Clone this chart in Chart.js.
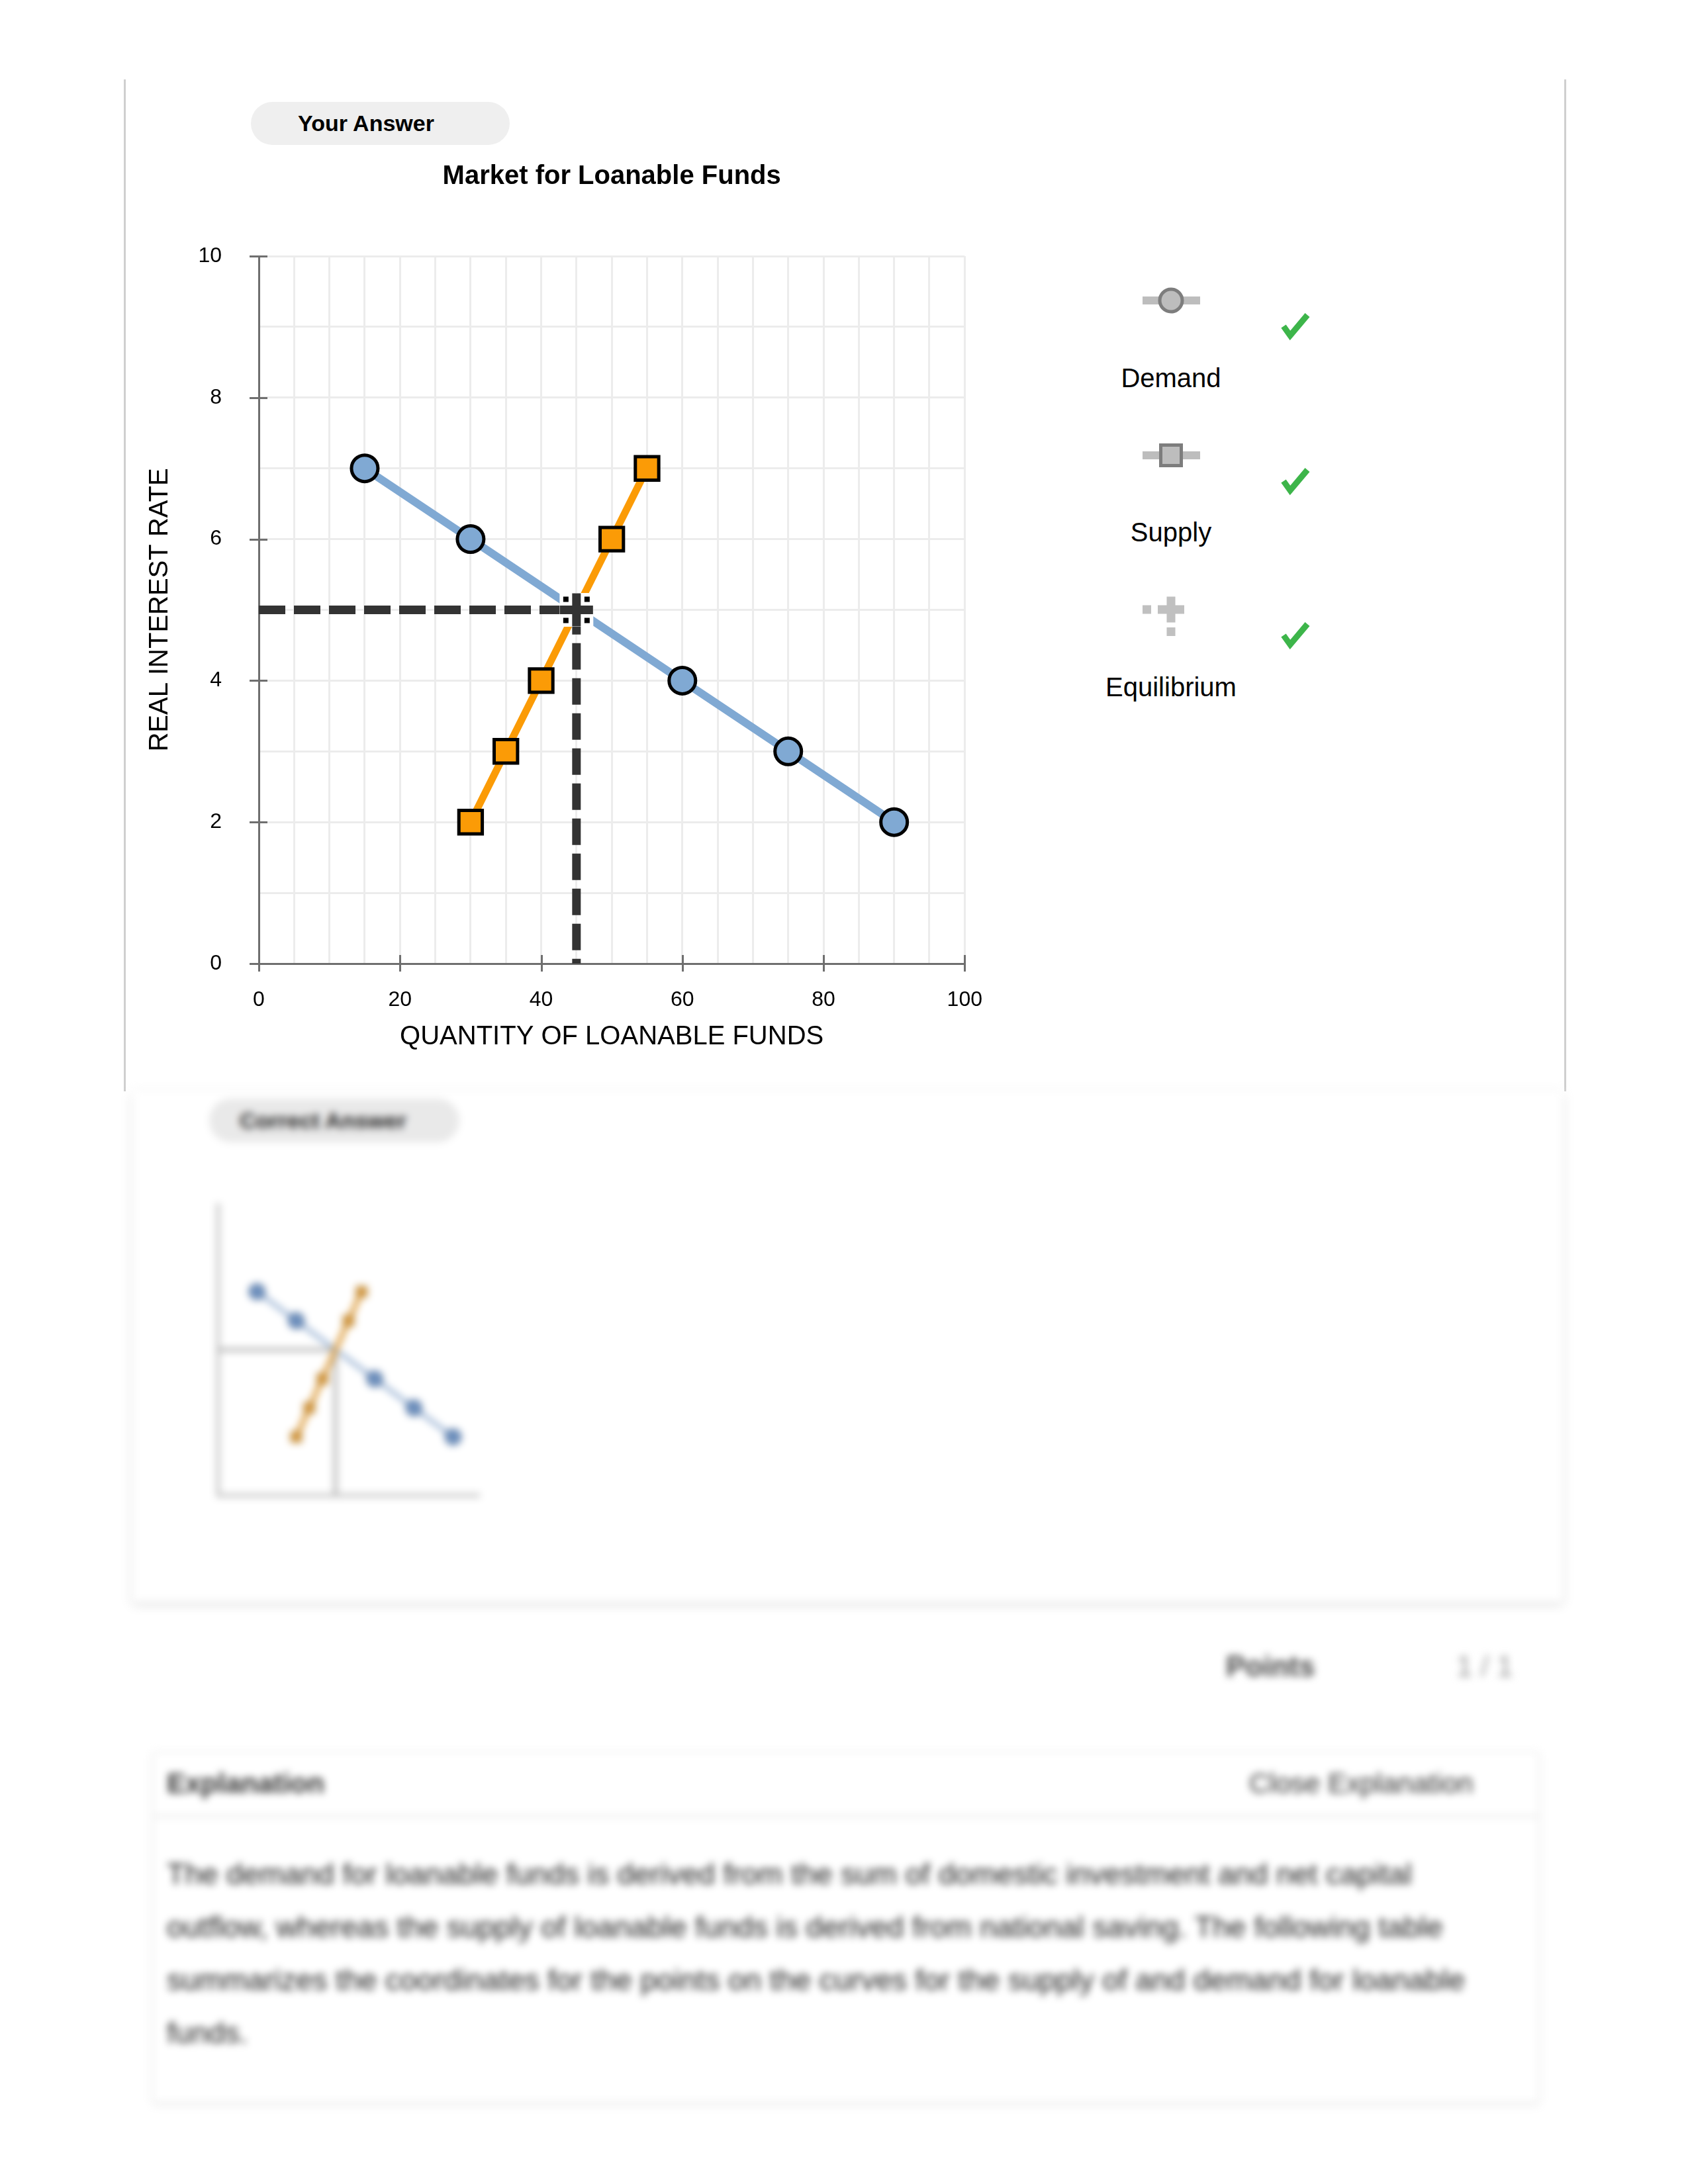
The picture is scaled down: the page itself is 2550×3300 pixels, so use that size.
<!DOCTYPE html>
<html>
<head>
<meta charset="utf-8">
<title>Market for Loanable Funds</title>
<script src="https://cdn.jsdelivr.net/npm/chart.js@4.4.0/dist/chart.umd.min.js"></script>
<style>
  html, body { margin: 0; padding: 0; background: #fff; }
  body {
    width: 2550px; height: 3300px; position: relative; overflow: hidden;
    font-family: "Liberation Sans", Arial, Helvetica, sans-serif; color: #000;
  }
  .frame-line { position: absolute; top: 120px; width: 3px; height: 1529px; background: #cfcfcf; }
  .pill {
    position: absolute; border-radius: 34px; background: #efefef;
    font-weight: bold; font-size: 34px; box-sizing: border-box; white-space: nowrap;
  }
  #mainWrap { position: absolute; left: 218px; top: 230px; width: 1302px; height: 1361px; }
  #legend { position: absolute; left: 1600px; top: 420px; }
  .blurred { position: absolute; left: 0; top: 0; width: 2550px; height: 3300px; filter: blur(6px); }
  .card {
    position: absolute; left: 200px; top: 1648px; width: 2161px; height: 772px;
    background: #fff; box-shadow: 0 4px 14px rgba(0,0,0,0.14); border-radius: 6px;
  }
  #miniWrap { position: absolute; left: 315px; top: 1805px; width: 430px; height: 470px; }
  .muted { position: absolute; font-size: 44px; white-space: nowrap; }
  .panel {
    position: absolute; left: 231px; top: 2647px; width: 2094px; height: 530px;
    background: #fff; border: 2px solid #eeeeee; box-shadow: 0 3px 10px rgba(0,0,0,0.08);
    box-sizing: border-box;
  }
  .panel-head { position: absolute; left: 0; top: 0; width: 100%; height: 94px; border-bottom: 3px solid #e3e3e3; }
  .para {
    position: absolute; left: 252px; top: 2792px; font-size: 45px; line-height: 80px;
    color: #222; white-space: nowrap;
  }
</style>
</head>
<body>

<div class="frame-line" style="left:187px"></div>
<div class="frame-line" style="left:2363px"></div>

<div class="pill" style="left:379px; top:154px; width:391px; height:65px; line-height:65px; padding-left:71px;">Your Answer</div>

<div id="mainWrap"><canvas id="loanChart"></canvas></div>

<svg id="legend" width="420" height="660" xmlns="http://www.w3.org/2000/svg">
  <g font-family="Liberation Sans, Arial, sans-serif" font-size="40" fill="#000" text-anchor="middle">
    <!-- Demand -->
    <line x1="126" y1="34" x2="213" y2="34" stroke="#bdbdbd" stroke-width="12"/>
    <circle cx="169" cy="34" r="17" fill="#bdbdbd" stroke="#7d7d7d" stroke-width="5"/>
    <text x="169" y="151" dominant-baseline="central">Demand</text>
    <!-- Supply -->
    <line x1="126" y1="268" x2="213" y2="268" stroke="#bdbdbd" stroke-width="12"/>
    <rect x="153.5" y="252.5" width="31" height="31" fill="#bdbdbd" stroke="#7d7d7d" stroke-width="5"/>
    <text x="169" y="384" dominant-baseline="central">Supply</text>
    <!-- Equilibrium -->
    <g fill="#c0c0c0">
      <rect x="149" y="494.5" width="40" height="13"/>
      <rect x="162.5" y="481.5" width="13" height="39"/>
      <rect x="126" y="494.5" width="13" height="13"/>
      <rect x="162.5" y="528" width="13" height="13"/>
    </g>
    <text x="169" y="618" dominant-baseline="central">Equilibrium</text>
  </g>
  <g fill="none" stroke="#3db54a" stroke-width="9" stroke-linejoin="miter">
    <path d="M 339 73 L 349 87 L 375 56"/>
    <path d="M 339 307 L 349 321 L 375 290"/>
    <path d="M 339 540 L 349 554 L 375 523"/>
  </g>
</svg>

<!-- lower part of the page, out of focus in the reference -->
<div class="blurred">
  <div class="card"></div>
  <div class="pill" style="left:316px; top:1660px; width:378px; height:66px; line-height:66px; padding-left:46px; background:#e9e9e9; color:#222;">Correct Answer</div>
  <div id="miniWrap"><canvas id="miniChart"></canvas></div>
  <div class="muted" style="left:1852px; top:2493px; color:#444; font-weight:bold;">Points</div>
  <div class="muted" style="left:2200px; top:2493px; color:#999;">1 / 1</div>
  <div class="panel"><div class="panel-head"></div></div>
  <div class="muted" style="left:252px; top:2671px; color:#333; font-size:42px; font-weight:bold;">Explanation</div>
  <div class="muted" style="left:1887px; top:2671px; color:#333; font-size:42px;">Close Explanation</div>
  <div class="para">The demand for loanable funds is derived from the sum of domestic investment and net capital<br>outflow, whereas the supply of loanable funds is derived from national saving. The following table<br>summarizes the coordinates for the points on the curves for the supply of and demand for loanable<br>funds.</div>
</div>

<script>
// values
const demandQty = [15, 30, 60, 75, 90];
const demandRate = [7, 6, 4, 3, 2];
const supplyQty = [30, 35, 40, 50, 55];
const supplyRate = [2, 3, 4, 6, 7];
const equilibriumQty = [45];
const equilibriumRate = [5];
const xTickLabels = [0, 20, 40, 60, 80, 100];
const yTickLabels = [0, 2, 4, 6, 8, 10];

const demandColor = '#80a9d3';
const supplyColor = '#fb9b06';
const dashColor = '#333333';
const axisColor = '#6f6f6f';
const gridColor = '#ececec';

Chart.defaults.font.family = '"Liberation Sans", Arial, Helvetica, sans-serif';
Chart.defaults.color = '#000';

function toPoints(xs, ys) {
    return xs.map((v, i) => ({ x: v, y: ys[i] }));
}

// dashed guide lines from the axes to the equilibrium point
function guidePoints() {
    return [
        { x: 0, y: equilibriumRate[0] },
        { x: equilibriumQty[0], y: equilibriumRate[0] },
        { x: equilibriumQty[0], y: 0 },
    ];
}

/**
 * Tick marks that cross the axis lines, plus the selection dots round the equilibrium
 */
const crossTicks = {
    id: 'crossTicks',
    afterDraw(chart) {
        const { ctx, scales: { x, y } } = chart;
        ctx.save();
        ctx.strokeStyle = axisColor;
        ctx.lineWidth = 3;
        ctx.beginPath();
        xTickLabels.forEach(v => {
            const px = Math.round(x.getPixelForValue(v)) + 0.5;
            ctx.moveTo(px, y.bottom - 13);
            ctx.lineTo(px, y.bottom + 12);
        });
        yTickLabels.forEach(v => {
            const py = Math.round(y.getPixelForValue(v)) + 0.5;
            ctx.moveTo(x.left - 14, py);
            ctx.lineTo(x.left + 13, py);
        });
        ctx.stroke();

        const eq = chart.getDatasetMeta(0).data[0];
        if (eq) {
            ctx.fillStyle = '#000';
            [[-16, -16], [16, -16], [-16, 16], [16, 16]].forEach(([dx, dy]) => {
                ctx.fillRect(eq.x + dx - 4, eq.y + dy - 4, 8, 8);
            });
        }
        ctx.restore();
    }
};

new Chart(document.getElementById('loanChart'), {
    type: 'scatter',
    data: {
        datasets: [
            {
                label: 'Equilibrium',
                data: toPoints(equilibriumQty, equilibriumRate),
                showLine: false,
                pointStyle: 'cross',
                pointRadius: 25,
                pointBorderWidth: 13,
                pointBorderColor: dashColor,
            },
            {
                label: 'mask',
                data: toPoints(equilibriumQty, equilibriumRate),
                showLine: false,
                pointStyle: 'rect',
                pointRadius: 36,
                pointBorderWidth: 0,
                pointBackgroundColor: '#ffffff',
            },
            {
                label: 'Supply',
                data: toPoints(supplyQty, supplyRate),
                showLine: true,
                borderColor: supplyColor,
                borderWidth: 11,
                pointStyle: 'rect',
                pointRadius: 25,
                pointBackgroundColor: supplyColor,
                pointBorderColor: '#000',
                pointBorderWidth: 5,
            },
            {
                label: 'Demand',
                data: toPoints(demandQty, demandRate),
                showLine: true,
                borderColor: demandColor,
                borderWidth: 12,
                pointStyle: 'circle',
                pointRadius: 20,
                pointBackgroundColor: demandColor,
                pointBorderColor: '#000',
                pointBorderWidth: 5,
            },
            {
                label: 'guide',
                data: guidePoints(),
                showLine: true,
                borderColor: dashColor,
                borderWidth: 13,
                borderDash: [40, 13],
                borderCapStyle: 'butt',
                pointRadius: 0,
            },
        ],
    },
    options: {
        responsive: true,
        maintainAspectRatio: false,
        animation: false,
        events: [],
        layout: { padding: { left: 0, right: 42, top: 13, bottom: 0 } },
        plugins: {
            legend: { display: false },
            tooltip: { enabled: false },
            title: {
                display: true,
                text: 'Market for Loanable Funds',
                fullSize: false,
                color: '#000',
                font: { size: 40, weight: 'bold' },
                padding: { top: 0, bottom: 96 },
            },
        },
        scales: {
            x: {
                type: 'linear',
                min: 0,
                max: 100,
                afterFit(scale) { scale.height = 135; },
                border: { display: true, color: axisColor, width: 3 },
                grid: { color: gridColor, lineWidth: 3, drawTicks: false },
                ticks: {
                    stepSize: 5,
                    autoSkip: false,
                    maxRotation: 0,
                    padding: 36,
                    color: '#000',
                    font: { size: 32 },
                    callback: v => xTickLabels.includes(v) ? String(v) : '',
                },
                title: {
                    display: true,
                    text: 'QUANTITY OF LOANABLE FUNDS',
                    color: '#000',
                    font: { size: 40 },
                    padding: 0,
                },
            },
            y: {
                type: 'linear',
                min: 0,
                max: 10,
                afterFit(scale) { scale.width = 173; },
                border: { display: true, color: axisColor, width: 3 },
                grid: { color: gridColor, lineWidth: 3, drawTicks: false },
                ticks: {
                    stepSize: 1,
                    autoSkip: false,
                    padding: 56,
                    color: '#000',
                    font: { size: 32 },
                    callback: v => yTickLabels.includes(v) ? String(v) : '',
                },
                title: {
                    display: true,
                    text: 'REAL INTEREST RATE',
                    color: '#000',
                    font: { size: 40 },
                    padding: 0,
                },
            },
        },
    },
    plugins: [crossTicks],
});

// small thumbnail of the correct answer (blurred in the reference)
new Chart(document.getElementById('miniChart'), {
    type: 'scatter',
    data: {
        datasets: [
            {
                data: toPoints(supplyQty, supplyRate),
                showLine: true,
                borderColor: '#e0a650',
                borderWidth: 8,
                pointStyle: 'rect',
                pointRadius: 10,
                pointBackgroundColor: '#d89a3e',
                pointBorderColor: '#b9822f',
                pointBorderWidth: 3,
            },
            {
                data: toPoints(demandQty, demandRate),
                showLine: true,
                borderColor: '#9ab3d3',
                borderWidth: 6,
                pointRadius: 11,
                pointBackgroundColor: '#6f92c0',
                pointBorderColor: '#4d6e9c',
                pointBorderWidth: 3,
            },
            {
                data: guidePoints(),
                showLine: true,
                borderColor: '#a9a9a9',
                borderWidth: 5,
                pointRadius: 0,
            },
        ],
    },
    options: {
        responsive: true,
        maintainAspectRatio: false,
        animation: false,
        events: [],
        layout: { padding: { left: 10, right: 21, top: 15, bottom: 16 } },
        plugins: { legend: { display: false }, tooltip: { enabled: false } },
        scales: {
            x: {
                min: 0, max: 100,
                afterFit(scale) { scale.height = 0; },
                border: { display: true, color: '#bdbdbd', width: 5 },
                grid: { display: false },
                ticks: { display: false },
            },
            y: {
                min: 0, max: 10,
                afterFit(scale) { scale.width = 0; },
                border: { display: true, color: '#bdbdbd', width: 5 },
                grid: { display: false },
                ticks: { display: false },
            },
        },
    },
});
</script>
</body>
</html>
